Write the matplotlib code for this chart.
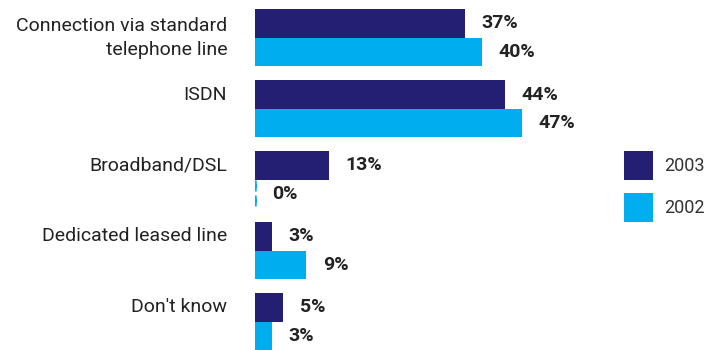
import matplotlib.pyplot as plt
import numpy as np

categories = ["Connection via standard\ntelephone line", "ISDN", "Broadband/DSL",
              "Dedicated leased line", "Don't know"]
years = ["2003", "2002"]
vals_2003 = [37, 44, 13, 3, 5]
vals_2002 = [40, 47, 0, 9, 3]

navy = "#241f72"
cyan = "#00adee"

plt.rcParams['font.family'] = ['Roboto', 'DejaVu Sans']

fig = plt.figure(figsize=(7.11, 3.5), dpi=100)
px = 5.68  # pixels per percent
xmax = 80
ax = fig.add_axes([255 / 711, 0, xmax * px / 711, 1])

y = np.arange(len(categories))
h = 0.4
b1 = ax.barh(y - h / 2, vals_2003, height=h, color=navy, label=years[0])
b2 = ax.barh(y + h / 2, vals_2002, height=h, color=cyan, label=years[1])

for bars in (b1, b2):
    for bar in bars:
        w = bar.get_width()
        if w == 0:
            bar.set_edgecolor(cyan)
            bar.set_linestyle((0, (3, 3)))
            bar.set_linewidth(1.8)
        ax.annotate(f"{w:.0f}%", (w, bar.get_y() + bar.get_height() / 2),
                    xytext=(12, 0), textcoords="offset points",
                    ha="left", va="center", fontsize=14, fontweight="bold",
                    color="#222222")

for i, cat in enumerate(categories):
    yy = i if "\n" in cat else i - h / 2
    ax.annotate(cat, (0, yy), xytext=(-20, 0), textcoords="offset points",
                ha="right", va="center", fontsize=14, color="#222222",
                linespacing=1.45, annotation_clip=False)

ax.set_xlim(0, xmax)
ax.set_ylim((350 - 37.7) / 71, -37.7 / 71)
ax.axis("off")

fig.legend(handles=[b1, b2], labels=years, loc="upper left",
           bbox_to_anchor=(608 / 711, 1 - 135 / 350), frameon=False,
           fontsize=13, handlelength=1.6, handleheight=2.05,
           labelspacing=0.75, handletextpad=0.6, labelcolor="#333333")

fig.savefig("out.png", dpi=100)
